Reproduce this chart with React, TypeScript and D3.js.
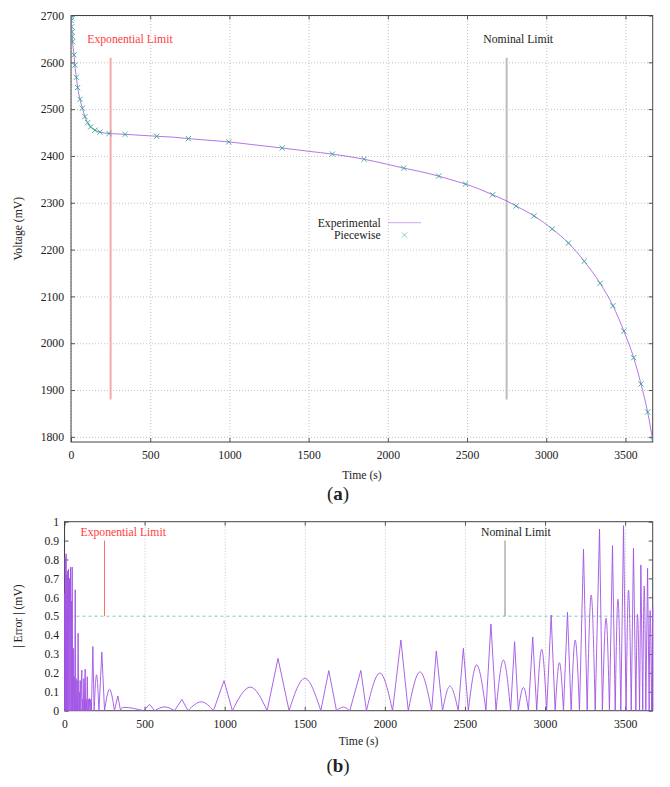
import React, { useRef, useEffect } from 'react';
import * as d3 from 'd3';

// ---- (a) voltage vs time ----
const expTime = [0, 2, 4, 6, 8, 10, 14, 19, 24, 34, 42, 57, 72, 88, 105, 124, 151, 183, 240, 300, 400, 541, 650, 741, 850, 996, 1150, 1333, 1500, 1650, 1850, 2000, 2100, 2200, 2321, 2400, 2490, 2580, 2662, 2750, 2810, 2923, 3038, 3140, 3240, 3340, 3421, 3490, 3552, 3598, 3640, 3672];
const expVoltage = [2702, 2689, 2676, 2665, 2655, 2644, 2630, 2616, 2594, 2568, 2546, 2521, 2502, 2484, 2471, 2462, 2455, 2451, 2448, 2447, 2445, 2442, 2440, 2437, 2434, 2430, 2424, 2417, 2410, 2404, 2393, 2382, 2374, 2367, 2357, 2349, 2340, 2329, 2317, 2304, 2293, 2272, 2244, 2214, 2175, 2128, 2080, 2026, 1969, 1913, 1853, 1793];

const pwTime = [0, 1, 2, 4, 6, 8, 10, 19, 24, 34, 42, 57, 72, 88, 105, 124, 151, 183, 240, 341, 541, 741, 996, 1333, 1650, 1850, 2100, 2321, 2490, 2662, 2810, 2923, 3038, 3140, 3240, 3340, 3421, 3490, 3552, 3598, 3640, 3672];
const pwVoltage = [2700, 2695, 2689, 2676, 2665, 2655, 2644, 2616, 2594, 2568, 2546, 2521, 2502, 2484, 2471, 2462, 2455, 2451, 2448, 2446, 2442, 2437, 2430, 2417, 2404, 2393, 2374, 2357, 2340, 2317, 2293, 2272, 2244, 2214, 2175, 2128, 2080, 2026, 1969, 1913, 1853, 1793];

const timeTicks = [0, 500, 1000, 1500, 2000, 2500, 3000, 3500];
const voltTicks = [1800, 1900, 2000, 2100, 2200, 2300, 2400, 2500, 2600, 2700];
const errTicks = [0, 0.1, 0.2, 0.3, 0.4, 0.5, 0.6, 0.7, 0.8, 0.9, 1];

const limitTime = [250, 2750];
const limitLabels = ['Exponential Limit', 'Nominal Limit'];
const limitVoltRange = [1880, 2610];
const limitErrRange = [0.5, 0.9];
const errRef = 0.5;

// ---- (b) |error| : humps between zero crossings ----
const errZero = [0, 3, 7, 12, 17, 22, 28, 34, 41, 46, 51, 58, 63, 70, 75, 82, 89, 95, 102, 111, 117, 125, 132, 139, 146, 152, 160, 168,
  185, 215, 250, 312, 350, 494, 563, 687, 771, 930, 1048, 1265, 1402, 1600, 1698, 1781, 1885, 2048, 2146, 2292, 2360, 2458, 2521,
  2631, 2694, 2785, 2833, 2896, 2948, 3010, 3063, 3115, 3163, 3215, 3263, 3313, 3358, 3402, 3438, 3473, 3506, 3538, 3567, 3590,
  3610, 3629, 3650, 3665, 3672];
const errPeakTime = [1, 4.5, 10, 15, 20, 25, 31, 38, 44, 48, 55, 60, 67, 72, 79, 85, 92, 98, 108, 114, 121, 129, 135, 142, 149, 156, 164,
  177, 200, 233, 281, 333, 365, 531, 625, 733, 854, 996, 1160, 1333, 1500, 1650, 1740, 1850, 1969, 2100, 2219, 2321, 2406, 2490, 2573,
  2662, 2740, 2810, 2865, 2923, 2979, 3038, 3090, 3140, 3188, 3240, 3288, 3340, 3381, 3421, 3455, 3490, 3521, 3552, 3577, 3598,
  3619, 3640, 3656, 3672];
const errPeak = [0.62, 0.81, 0.83, 0.72, 0.74, 0.75, 0.70, 0.76, 0.58, 0.76, 0.33, 0.18, 0.64, 0.17, 0.16, 0.41, 0.10, 0.16, 0.215, 0.06, 0.17, 0.22, 0.06, 0.18, 0.06, 0.065, 0.06,
  0.34, 0.19, 0.31, 0.113, 0.078, 0.018, 0.034, 0.02, 0.06, 0.047, 0.159, 0.125, 0.277, 0.171, 0.212, 0.019, 0.213, 0.199, 0.374, 0.205,
  0.316, 0.13, 0.33, 0.242, 0.459, 0.268, 0.365, 0.123, 0.39, 0.325, 0.506, 0.254, 0.52, 0.374, 0.854, 0.612, 0.961, 0.489, 0.873,
  0.59, 0.979, 0.638, 0.859, 0.51, 0.771, 0.66, 0.753, 0.53, 0.55];
// s = sharp spike, r = rounded arch
const errShape = ('sssssssssssssssssssssssssss' + 'srsrsrsrsrsrsrsrsrsrsrsrsrsrsrsrsrsrsrsrsrsrsrsrs').split('');

const FONT = "'Liberation Serif', 'Times New Roman', serif";
const PURPLE = '#a052e4';
const GREEN = '#2fa88a';

function frame(g, x, y, xTicks, yTicks, yGrid, yPad, yFmt) {
  const [x0, x1] = x.range();
  const [y0, y1] = y.range();
  // grid
  g.append('g').attr('transform', `translate(0,${y0})`)
    .call(d3.axisBottom(x).tickValues(xTicks).tickSize(-(y0 - y1)).tickFormat(() => ''))
    .call(a => a.select('.domain').remove())
    .selectAll('line').attr('stroke', '#c4c4c4').attr('stroke-dasharray', '1,2');
  if (yGrid) {
    g.append('g').attr('transform', `translate(${x0},0)`)
      .call(d3.axisLeft(y).tickValues(yTicks).tickSize(-(x1 - x0)).tickFormat(() => ''))
      .call(a => a.select('.domain').remove())
      .selectAll('line').attr('stroke', '#c4c4c4').attr('stroke-dasharray', '1,2');
  }
  const styl = (a) => {
    a.select('.domain').remove();
    a.selectAll('line').attr('stroke', '#555');
    a.attr('font-family', FONT).attr('font-size', 11.7);
    a.selectAll('text').attr('fill', '#222');
  };
  g.append('g').attr('transform', `translate(${x0},0)`)
    .call(d3.axisLeft(y).tickValues(yTicks).tickSize(-4).tickPadding(yPad).tickFormat(yFmt)).call(styl);
  g.append('g').attr('transform', `translate(${x1},0)`)
    .call(d3.axisRight(y).tickValues(yTicks).tickSize(-4).tickFormat(() => '')).call(styl);
  g.append('g').attr('transform', `translate(0,${y0})`)
    .call(d3.axisBottom(x).tickValues(xTicks).tickSize(-4).tickPadding(9).tickFormat(d3.format('d'))).call(styl);
  g.append('g').attr('transform', `translate(0,${y1})`)
    .call(d3.axisTop(x).tickValues(xTicks).tickSize(-4).tickFormat(() => '')).call(styl);
  g.append('rect').attr('x', x0).attr('y', y1).attr('width', x1 - x0).attr('height', y0 - y1)
    .attr('fill', 'none').attr('stroke', '#444').attr('stroke-width', 1);
}

function label(g, txt, xp, yp, opts = {}) {
  const t = g.append('text').attr('x', xp).attr('y', yp).attr('font-family', FONT)
    .attr('font-size', opts.size || 11.7).attr('fill', opts.fill || '#222')
    .attr('text-anchor', opts.anchor || 'middle').text(txt);
  if (opts.rotate) t.attr('transform', `rotate(-90,${xp},${yp})`);
  return t;
}

function drawVoltage(g) {
  const x = d3.scaleLinear().domain([0, 3672]).range([71, 652.7]);
  const y = d3.scaleLinear().domain([1789, 2700]).range([442, 15.5]);
  frame(g, x, y, timeTicks, voltTicks, true, 7, d3.format('d'));

  g.append('clipPath').attr('id', 'clipA').append('rect')
    .attr('x', 71).attr('y', 15.5).attr('width', 652.7 - 71).attr('height', 442 - 15.5);

  limitTime.forEach((t, i) => {
    g.append('line').attr('x1', x(t)).attr('x2', x(t))
      .attr('y1', y(limitVoltRange[1])).attr('y2', y(limitVoltRange[0]))
      .attr('stroke', i === 0 ? '#f7a9a9' : '#bcbcbc').attr('stroke-width', 2);
    label(g, limitLabels[i], x(t) - 23.3, 43, { anchor: 'start', fill: i === 0 ? '#ff3d3d' : '#222' });
  });

  const line = d3.line<number>().x((d, i) => x(expTime[i])).y(d => y(d)).curve(d3.curveMonotoneX);
  g.append('path').attr('d', line(expVoltage)).attr('clip-path', 'url(#clipA)')
    .attr('fill', 'none').attr('stroke', PURPLE).attr('stroke-width', 1).attr('stroke-opacity', 0.8);

  const xm = 'M-2.6,-2.6L2.6,2.6M-2.6,2.6L2.6,-2.6';
  g.append('g').attr('clip-path', 'url(#clipA)').selectAll('path').data(pwVoltage).join('path')
    .attr('transform', (d, i) => `translate(${x(pwTime[i])},${y(d)})`)
    .attr('d', xm).attr('fill', 'none').attr('stroke', GREEN).attr('stroke-width', 0.9);

  // legend
  label(g, 'Experimental', 380.7, 227, { anchor: 'end' });
  label(g, 'Piecewise', 380.7, 239, { anchor: 'end' });
  g.append('line').attr('x1', 388).attr('x2', 421).attr('y1', 222.7).attr('y2', 222.7)
    .attr('stroke', PURPLE).attr('stroke-opacity', 0.5).attr('stroke-width', 1);
  g.append('path').attr('transform', 'translate(404.5,235)').attr('d', xm)
    .attr('fill', 'none').attr('stroke', GREEN).attr('stroke-opacity', 0.6).attr('stroke-width', 0.9);

  label(g, 'Voltage (mV)', 22, 228.7, { rotate: true });
  label(g, 'Time (s)', 362, 479);
  const cap = label(g, '', 338, 500, { size: 19 });
  cap.append('tspan').text('(');
  cap.append('tspan').attr('font-weight', 'bold').text('a');
  cap.append('tspan').text(')');
}

function drawError(g) {
  const x = d3.scaleLinear().domain([0, 3672]).range([64.5, 652.7]);
  const y = d3.scaleLinear().domain([0, 1]).range([710.7, 521.7]);
  frame(g, x, y, timeTicks, errTicks, false, 5.5, d3.format('~g'));

  g.append('line').attr('x1', x(0)).attr('x2', x(3672)).attr('y1', y(errRef)).attr('y2', y(errRef))
    .attr('stroke', '#5cc0a8').attr('stroke-width', 0.8).attr('stroke-dasharray', '3,3');

  limitTime.forEach((t, i) => {
    g.append('line').attr('x1', x(t)).attr('x2', x(t))
      .attr('y1', y(limitErrRange[1])).attr('y2', y(limitErrRange[0]))
      .attr('stroke', i === 0 ? '#ff6a6a' : '#888').attr('stroke-width', 1);
    label(g, limitLabels[i], x(t) - 24, 535.5, { anchor: 'start', fill: i === 0 ? '#ff3d3d' : '#222' });
  });

  const spike = d3.line<[number, number]>().x(d => x(d[0])).y(d => y(d[1]));
  const arch = d3.line<[number, number]>().x(d => x(d[0])).y(d => y(d[1])).curve(d3.curveMonotoneX);
  g.append('g').selectAll('path').data(errPeak).join('path')
    .attr('d', (v, i) => {
      const pts: [number, number][] = [[errZero[i], 0], [errPeakTime[i], v], [errZero[i + 1], 0]];
      return errShape[i] === 'r' ? arch(pts) : spike(pts);
    })
    .attr('fill', 'none').attr('stroke', PURPLE).attr('stroke-width', 0.9);

  label(g, '| Error | (mV)', 22, 616, { rotate: true });
  label(g, 'Time (s)', 358.6, 745);
  const cap = label(g, '', 338, 772, { size: 19 });
  cap.append('tspan').text('(');
  cap.append('tspan').attr('font-weight', 'bold').text('b');
  cap.append('tspan').text(')');
}

export default function App() {
  const ref = useRef<SVGSVGElement>(null);
  useEffect(() => {
    document.body.style.margin = '0';
    const svg = d3.select(ref.current);
    svg.selectAll('*').remove();
    drawVoltage(svg.append('g'));
    drawError(svg.append('g'));
  }, []);
  return <svg ref={ref} width={670} height={787} style={{ display: 'block', background: '#fff' }} />;
}
